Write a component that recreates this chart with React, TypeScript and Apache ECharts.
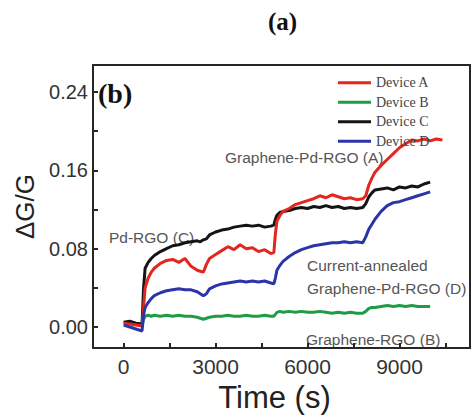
import React, { useEffect, useRef } from "react";
import * as echarts from "echarts";

const times = [
  0, 200, 400, 600, 650, 700, 800, 900, 1000, 1200, 1400, 1600, 1800, 2000, 2200, 2400,
  2500, 2600, 2700, 2800, 3000, 3200, 3400, 3600, 3800, 4000, 4200, 4400, 4600, 4800,
  4900, 4950, 5000, 5100, 5200, 5400, 5600, 5800, 6000, 6200, 6400, 6600, 6800, 7000,
  7200, 7400, 7600, 7800, 7900, 8000, 8100, 8200, 8400, 8600, 8800, 9000, 9200, 9400,
  9600, 9800, 10000, 10200, 10400,
];

const deviceA = [
  0.004, 0.003, 0.002, 0.001, 0.02, 0.04, 0.05, 0.056, 0.06, 0.065, 0.068, 0.069, 0.066, 0.07, 0.062, 0.058,
  0.057, 0.056, 0.064, 0.07, 0.074, 0.078, 0.082, 0.079, 0.084, 0.08, 0.081, 0.077, 0.079, 0.075,
  0.076, 0.095, 0.108, 0.114, 0.118, 0.121, 0.125, 0.127, 0.129, 0.131, 0.134, 0.132, 0.135, 0.133,
  0.131, 0.132, 0.13, 0.131, 0.134, 0.145, 0.152, 0.158, 0.165, 0.171, 0.177, 0.183, 0.187, 0.191,
  0.19, 0.192, 0.19, 0.192, 0.191,
];

const deviceB = [
  0.004, 0.005, 0.003, 0.002, 0.008, 0.011, 0.012, 0.011, 0.012, 0.011, 0.012, 0.011, 0.012, 0.011, 0.011, 0.01,
  0.009, 0.008, 0.009, 0.01, 0.011, 0.011, 0.012, 0.011, 0.011, 0.012, 0.011, 0.011, 0.012, 0.011,
  0.011, 0.013, 0.015, 0.016, 0.015, 0.016, 0.015, 0.016, 0.015, 0.015, 0.016, 0.015, 0.014, 0.015,
  0.014, 0.015, 0.014, 0.014, 0.016, 0.019, 0.02, 0.02, 0.021, 0.022, 0.021, 0.022, 0.021, 0.022,
  0.021, 0.021, 0.021, null, null,
];

const deviceC = [
  0.005, 0.006, 0.004, 0.003, 0.04, 0.06, 0.066, 0.07, 0.073, 0.077, 0.08, 0.083, 0.084, 0.086, 0.087, 0.088,
  0.087, 0.089, 0.09, 0.094, 0.097, 0.099, 0.1, 0.102, 0.103, 0.104, 0.103, 0.104, 0.102, 0.103,
  0.104, 0.11, 0.114, 0.117, 0.118, 0.119, 0.121, 0.122, 0.121, 0.123, 0.122, 0.124, 0.122, 0.123,
  0.121, 0.122, 0.121, 0.122, 0.126, 0.133, 0.137, 0.14, 0.141, 0.142, 0.14, 0.143, 0.142, 0.144,
  0.143, 0.146, 0.148, null, null,
];

const deviceD = [
  0.002, 0.0, -0.002, -0.004, 0.012, 0.02, 0.025, 0.029, 0.032, 0.035, 0.037, 0.038, 0.039, 0.038, 0.038, 0.036,
  0.034, 0.032, 0.034, 0.039, 0.042, 0.044, 0.045, 0.046, 0.047, 0.046, 0.047, 0.046, 0.047, 0.045,
  0.044, 0.05, 0.058, 0.063, 0.067, 0.072, 0.076, 0.079, 0.081, 0.083, 0.084, 0.085, 0.086, 0.086,
  0.087, 0.086, 0.087, 0.086, 0.092, 0.1, 0.105, 0.11, 0.118, 0.124, 0.127, 0.128, 0.13, 0.132,
  0.134, 0.136, 0.138, null, null,
];

const yTickLabels = [0, 0.08, 0.16, 0.24];
const yTicks = [0, 0.04, 0.08, 0.12, 0.16, 0.2, 0.24];
const xTickLabels = [0, 3000, 6000, 9000];
const xTicks = [0, 1500, 3000, 4500, 6000, 7500, 9000, 10500];

const legendNames = ["Device A", "Device B", "Device C", "Device D"];

const pair = (vals: (number | null)[]) => times.map((t, i) => [t, vals[i]]);

export default function App() {
  const ref = useRef<HTMLDivElement>(null);
  useEffect(() => {
    if (!ref.current) return;
    const chart = echarts.init(ref.current, null, { renderer: "svg" });
    const frame = "#262626";
    const sans = "'Liberation Sans', Arial, sans-serif";
    const serif = "'Liberation Serif', 'Times New Roman', serif";
    const XMIN = -1000;
    const XMAX = 11300;
    const YMIN = -0.0215;
    const YMAX = 0.2675;
    const annot = (text: string, x: number, y: number) => ({
      type: "text",
      x,
      y,
      style: { text, fill: "#555", font: `15.5px ${sans}`, align: "left", verticalAlign: "middle" },
    });
    const frameAxis = {
      type: "value",
      show: true,
      splitLine: { show: false },
      axisLine: { show: true, onZero: false, lineStyle: { color: frame, width: 2 } },
      axisTick: { show: false },
      axisLabel: { show: false },
    };
    chart.setOption({
      animation: false,
      backgroundColor: "#fff",
      title: {
        text: "(a)",
        left: 268,
        top: 9,
        padding: 0,
        textStyle: { fontFamily: serif, fontWeight: "bold", fontSize: 25, color: "#111" },
      },
      grid: { left: 93, top: 65, width: 377, height: 295 },
      legend: {
        data: legendNames,
        orient: "vertical",
        left: 333,
        top: 68,
        itemWidth: 33,
        itemHeight: 3,
        itemGap: 0,
        icon: "rect",
        textStyle: { fontFamily: serif, fontSize: 14, color: "#444", lineHeight: 19.5 },
      },
      xAxis: [
        {
          type: "value",
          min: XMIN,
          max: XMAX,
          name: "Time (s)",
          nameLocation: "middle",
          nameGap: 29,
          nameTextStyle: { fontFamily: sans, fontSize: 31, color: "#222", padding: [0, 14, 0, 0] },
          splitLine: { show: false },
          axisLine: { show: true, onZero: false, lineStyle: { color: frame, width: 2 } },
          axisTick: { show: true, inside: true, length: 5, customValues: xTicks, lineStyle: { color: frame, width: 2 } },
          axisLabel: {
            customValues: xTickLabels,
            margin: 8,
            fontFamily: sans,
            fontSize: 21,
            color: "#333",
            formatter: (v: number) => String(v),
          },
        },
        { ...frameAxis, position: "top", min: XMIN, max: XMAX },
      ],
      yAxis: [
        {
          type: "value",
          min: YMIN,
          max: YMAX,
          name: "ΔG/G",
          nameLocation: "middle",
          nameRotate: 90,
          nameGap: 50,
          nameTextStyle: { fontFamily: sans, fontSize: 26, color: "#222" },
          splitLine: { show: false },
          axisLine: { show: true, onZero: false, lineStyle: { color: frame, width: 2 } },
          axisTick: { show: true, inside: true, length: 5, customValues: yTicks, lineStyle: { color: frame, width: 2 } },
          axisLabel: {
            customValues: yTickLabels,
            margin: 5,
            fontFamily: sans,
            fontSize: 20,
            color: "#333",
            formatter: (v: number) => v.toFixed(2),
          },
        },
        { ...frameAxis, position: "right", min: YMIN, max: YMAX },
      ],
      series: [
        { name: "Device B", type: "line", data: pair(deviceB), showSymbol: false, color: "#1f9c45", lineStyle: { width: 3 } },
        { name: "Device C", type: "line", data: pair(deviceC), showSymbol: false, color: "#141414", lineStyle: { width: 3 } },
        { name: "Device A", type: "line", data: pair(deviceA), showSymbol: false, color: "#e3261f", lineStyle: { width: 3 } },
        { name: "Device D", type: "line", data: pair(deviceD), showSymbol: false, color: "#2b35a8", lineStyle: { width: 3 } },
      ],
      graphic: [
        {
          type: "text",
          x: 98,
          y: 93,
          style: { text: "(b)", fill: "#111", font: `bold 28px ${serif}`, align: "left", verticalAlign: "middle" },
        },
        annot("Graphene-Pd-RGO (A)", 225, 157),
        annot("Pd-RGO (C)", 109, 237),
        annot("Current-annealed", 307, 265),
        annot("Graphene-Pd-RGO (D)", 307, 288),
        annot("Graphene-RGO (B)", 306, 339),
      ],
    });
    return () => chart.dispose();
  }, []);
  return <div ref={ref} style={{ position: "fixed", left: 0, top: 0, width: 472, height: 418 }} />;
}
